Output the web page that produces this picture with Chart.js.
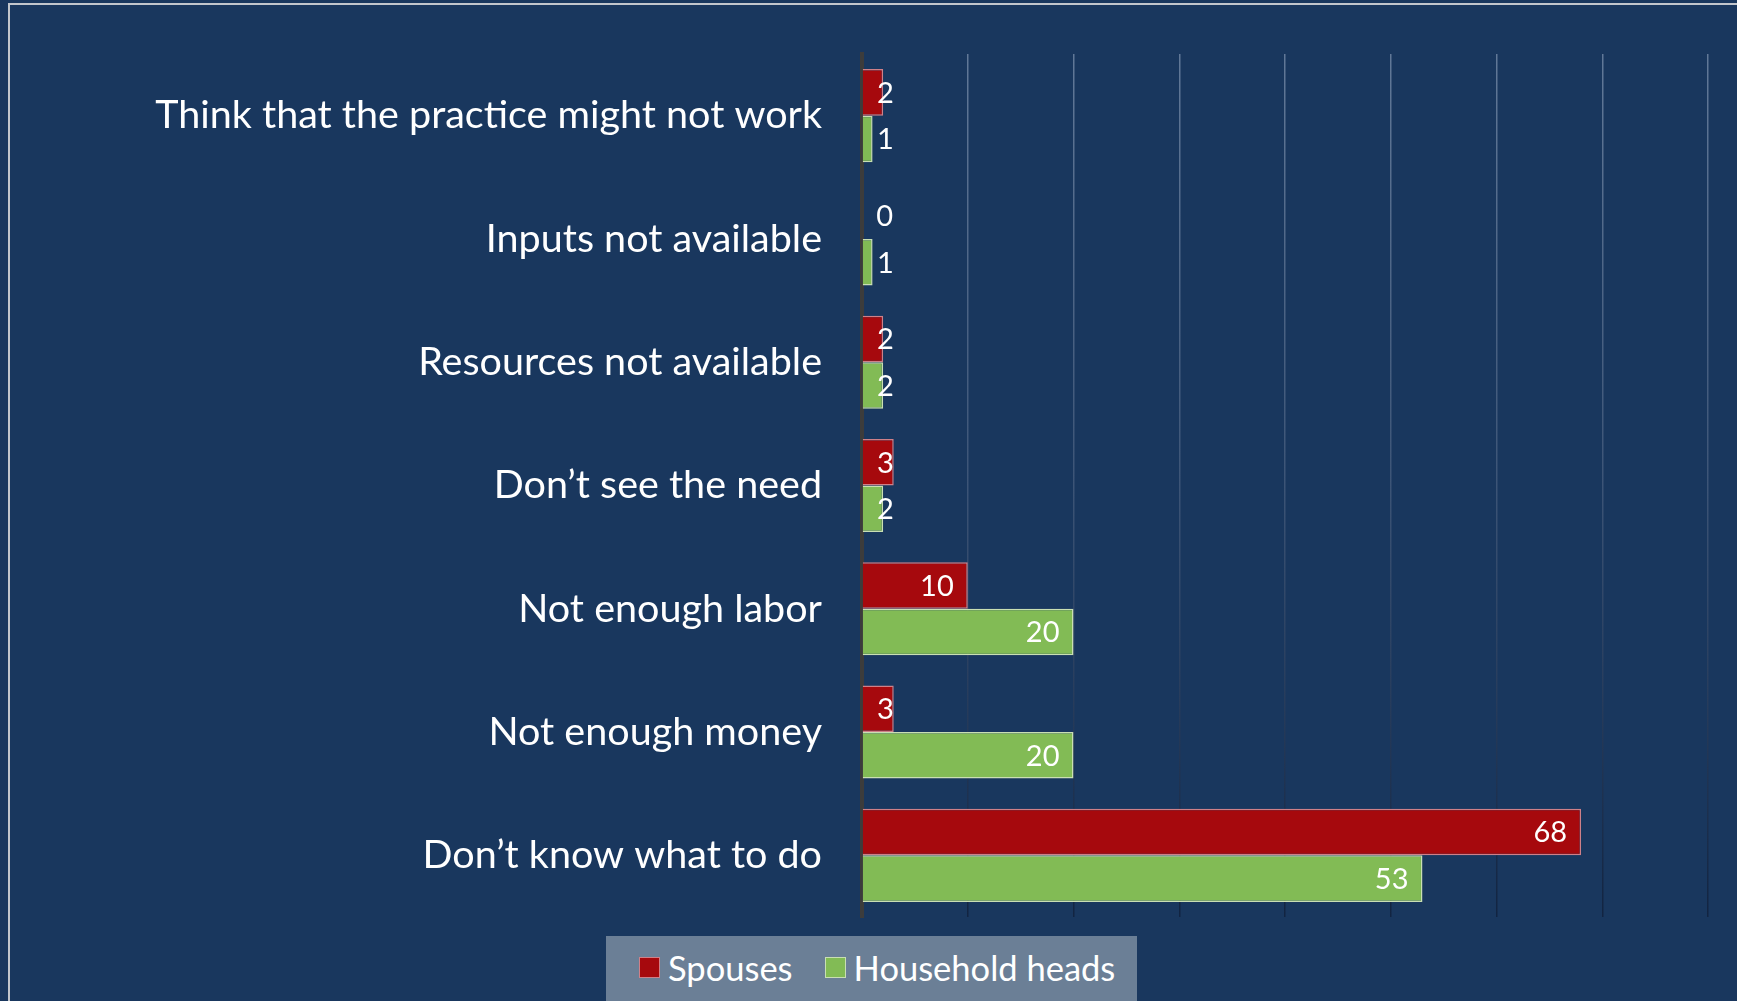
<!DOCTYPE html>
<html>
<head>
<meta charset="utf-8">
<script src="https://cdn.jsdelivr.net/npm/chart.js@4.4.1/dist/chart.umd.min.js"></script>
<style>
    html, body {
        margin: 0;
        padding: 0;
        background: #19375e;
        overflow: hidden;
    }
    #wrap {
        position: relative;
        width: 1737px;
        height: 1001px;
    }
    #frame {
        position: absolute;
        left: 8px;
        top: 3px;
        right: -10px;
        bottom: -10px;
        border-left: 2px solid #c2c6cc;
        border-top: 2px solid #c2c6cc;
        pointer-events: none;
    }
    #chart-legend {
        position: absolute;
        left: 606px;
        top: 936px;
        width: 531px;
        height: 80px;
        background: #6b7f96;
    }
    #chart-legend ul {
        list-style: none;
        margin: 0;
        padding: 0 0 0 33px;
        display: flex;
        align-items: center;
        height: 63px;
    }
    #chart-legend li {
        display: flex;
        align-items: center;
        margin-right: 32px;
        white-space: nowrap;
        font-family: Lato, sans-serif;
        font-size: 34.5px;
        color: #ffffff;
    }
</style>
</head>
<body>
<div id="wrap">
    <canvas id="bar-chart"></canvas>
    <div id="chart-legend"><ul></ul></div>
    <div id="frame"></div>
</div>
<script>
// Data
const categories = [
    'Think that the practice might not work',
    'Inputs not available',
    'Resources not available',
    'Don\u2019t see the need',
    'Not enough labor',
    'Not enough money',
    'Don\u2019t know what to do',
];
const spouses = [2, 0, 2, 3, 10, 3, 68];
const householdHeads = [1, 1, 2, 2, 20, 20, 53];
const seriesNames = ['Spouses', 'Household heads'];

const fontFamily = 'Lato, sans-serif';

// Grid lines fade from light at the top to dark at the bottom
let gridGradient = null;
const gridColor = (ctx) => {
    const area = ctx.chart.chartArea;
    if (!area) return '#4a6080';
    if (!gridGradient) {
        gridGradient = ctx.chart.ctx.createLinearGradient(0, area.top, 0, area.bottom);
        gridGradient.addColorStop(0, '#617897');
        gridGradient.addColorStop(0.5, '#3c5476');
        gridGradient.addColorStop(1, '#122441');
    }
    return gridGradient;
};

// Value labels: inside the bar end, pushed out for short bars
const barLabels = {
    id: 'barLabels',
    afterDatasetsDraw(chart) {
        const { ctx } = chart;
        ctx.save();
        ctx.font = '29px ' + fontFamily;
        ctx.fillStyle = '#ffffff';
        ctx.textAlign = 'right';
        ctx.textBaseline = 'middle';
        chart.data.datasets.forEach((ds, i) => {
            chart.getDatasetMeta(i).data.forEach((bar, j) => {
                const x = Math.max(bar.x - 14, bar.base + 31);
                ctx.fillText(String(ds.data[j]), x, bar.y + 1);
            });
        });
        ctx.restore();
    },
};

const htmlLegend = {
    id: 'htmlLegend',
    afterUpdate(chart) {
        const ul = document.querySelector('#chart-legend ul');
        if (!ul) return;
        ul.innerHTML = '';
        chart.data.datasets.forEach((ds) => {
            const li = document.createElement('li');
            const box = document.createElement('span');
            box.style.display = 'block';
            box.style.width = '19px';
            box.style.height = '19px';
            box.style.background = ds.backgroundColor;
            box.style.border = '1px solid ' + ds.borderColor;
            box.style.marginRight = '8px';
            li.appendChild(box);
            li.appendChild(document.createTextNode(ds.label));
            ul.appendChild(li);
        });
    },
};

const canvas = document.getElementById('bar-chart');
canvas.width = 1737;
canvas.height = 1001;

new Chart(canvas, {
    type: 'bar',
    data: {
        labels: categories,
        datasets: [{
            label: seriesNames[0],
            data: spouses,
            backgroundColor: '#a6090d',
            borderColor: '#cf8088',
            borderWidth: 1.5,
            borderSkipped: 'start',
        }, {
            label: seriesNames[1],
            data: householdHeads,
            backgroundColor: '#82bb55',
            borderColor: '#c9dfb3',
            borderWidth: 1.5,
            borderSkipped: 'start',
        }],
    },
    options: {
        indexAxis: 'y',
        responsive: false,
        animation: false,
        categoryPercentage: 0.755,
        barPercentage: 1,
        layout: {
            padding: { top: 54, right: 29, bottom: 84, left: 0 },
        },
        scales: {
            x: {
                min: 0,
                max: 80,
                ticks: { display: false, stepSize: 10 },
                grid: {
                    color: gridColor,
                    lineWidth: 1.5,
                    drawTicks: false,
                },
                border: { display: false },
            },
            y: {
                grid: { display: false, drawTicks: false },
                border: { color: '#3c3c3c', width: 4 },
                ticks: {
                    color: '#ffffff',
                    padding: 40,
                    crossAlign: 'near',
                    font: { family: fontFamily, size: 39.5 },
                },
                afterFit(scale) {
                    scale.width = 862;
                    scale.paddingTop = 0;
                    scale.paddingBottom = 0;
                },
            },
        },
        plugins: {
            legend: { display: false },
            tooltip: { enabled: false },
        },
    },
    plugins: [barLabels, htmlLegend],
});
</script>
</body>
</html>
